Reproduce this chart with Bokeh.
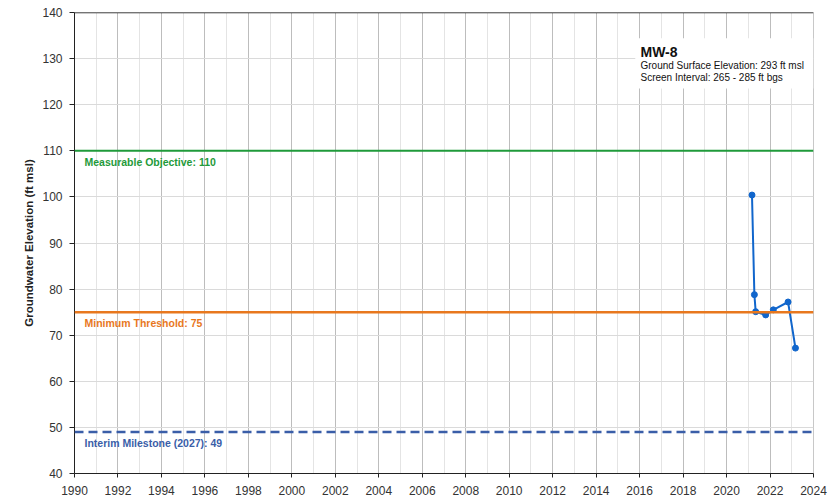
from bokeh.plotting import figure
from bokeh.models import SingleIntervalTicker, Span, Label, BoxAnnotation, Range1d
from bokeh.embed import file_html
from bokeh.resources import INLINE

# data
years = [2021.17, 2021.28, 2021.34, 2021.80, 2022.15, 2022.83, 2023.17]
elev = [100.4, 78.8, 75.1, 74.4, 75.5, 77.2, 67.2]

well_name = "MW-8"
info_lines = ["Ground Surface Elevation: 293 ft msl", "Screen Interval: 265 - 285 ft bgs"]
mo_value = 110
mt_value = 75
im_value = 49
x_range = (1990, 2024)
y_range = (40, 140)

FONT = "Liberation Sans"

p = figure(width=838, height=499, output_backend="svg", toolbar_location=None,
           x_range=Range1d(*x_range), y_range=Range1d(*y_range),
           min_border_left=74, min_border_right=25, min_border_top=12, min_border_bottom=26)
p.background_fill_color = "white"
p.border_fill_color = "white"
p.outline_line_color = "#c8c8c8"

p.xaxis.ticker = SingleIntervalTicker(interval=2, num_minor_ticks=2)
p.yaxis.ticker = SingleIntervalTicker(interval=10, num_minor_ticks=0)

p.xgrid.grid_line_color = "#bdbdbd"
p.xgrid.minor_grid_line_color = "#e4e4e4"
p.ygrid.grid_line_color = "#dadada"

for ax in (p.xaxis[0], p.yaxis[0]):
    ax.axis_line_color = "#222222"
    ax.major_tick_line_color = "#222222"
    ax.major_tick_in = 0
    ax.minor_tick_line_color = None
    ax.major_label_text_font = FONT
    ax.major_label_text_font_size = "12px"
    ax.major_label_text_color = "#333333"

p.xaxis.major_tick_out = 4
p.xaxis.major_label_standoff = 8
p.yaxis.major_tick_out = 5
p.yaxis.major_label_standoff = 7
p.yaxis.axis_label = "Groundwater Elevation (ft msl)"
p.yaxis.axis_label_text_font = FONT
p.yaxis.axis_label_text_font_style = "bold"
p.yaxis.axis_label_text_font_size = "11.5px"
p.yaxis.axis_label_text_color = "#222222"
p.yaxis.axis_label_standoff = 4

# top border
p.add_layout(Span(location=y_range[1], dimension="width", line_color="#222222", line_width=1.5))

# thresholds
p.add_layout(Span(location=mo_value, dimension="width", line_color="#1f9a3a", line_width=2))
p.add_layout(Span(location=mt_value, dimension="width", line_color="#e8781e", line_width=2.5))
p.add_layout(Span(location=im_value, dimension="width", line_color="#3a5ea8", line_width=2.5,
                  line_dash="9 5"))

lab_x = x_range[0] + 0.46
for val, txt, col in [(mo_value, f"Measurable Objective: {mo_value}", "#1f9a3a"),
                      (mt_value, f"Minimum Threshold: {mt_value}", "#e8781e"),
                      (im_value, f"Interim Milestone (2027): {im_value}", "#3a5ea8")]:
    p.add_layout(Label(x=lab_x, y=val, text=txt, text_color=col, text_font=FONT,
                       text_font_style="bold", text_font_size="10.5px",
                       text_baseline="top", y_offset=-5))

# data series
p.line(years, elev, line_color="#1166cc", line_width=2)
p.scatter(years, elev, size=6, fill_color="#1166cc", line_color="#1166cc")

# info box
p.add_layout(BoxAnnotation(left=2015.8, right=2024, top=134.4, bottom=123.5,
                           fill_color="white", fill_alpha=1.0, line_color=None))
p.add_layout(Label(x=2016.04, y=131.4, text=well_name, text_font=FONT, text_font_style="bold",
                   text_font_size="14px", text_color="#111111", text_baseline="alphabetic"))
p.add_layout(Label(x=2016.04, y=128.5, text=info_lines[0], text_font=FONT,
                   text_font_size="10px", text_color="#111111", text_baseline="alphabetic"))
p.add_layout(Label(x=2016.04, y=125.9, text=info_lines[1], text_font=FONT,
                   text_font_size="10px", text_color="#111111", text_baseline="alphabetic"))

open("out.html", "w").write(file_html(p, INLINE))
